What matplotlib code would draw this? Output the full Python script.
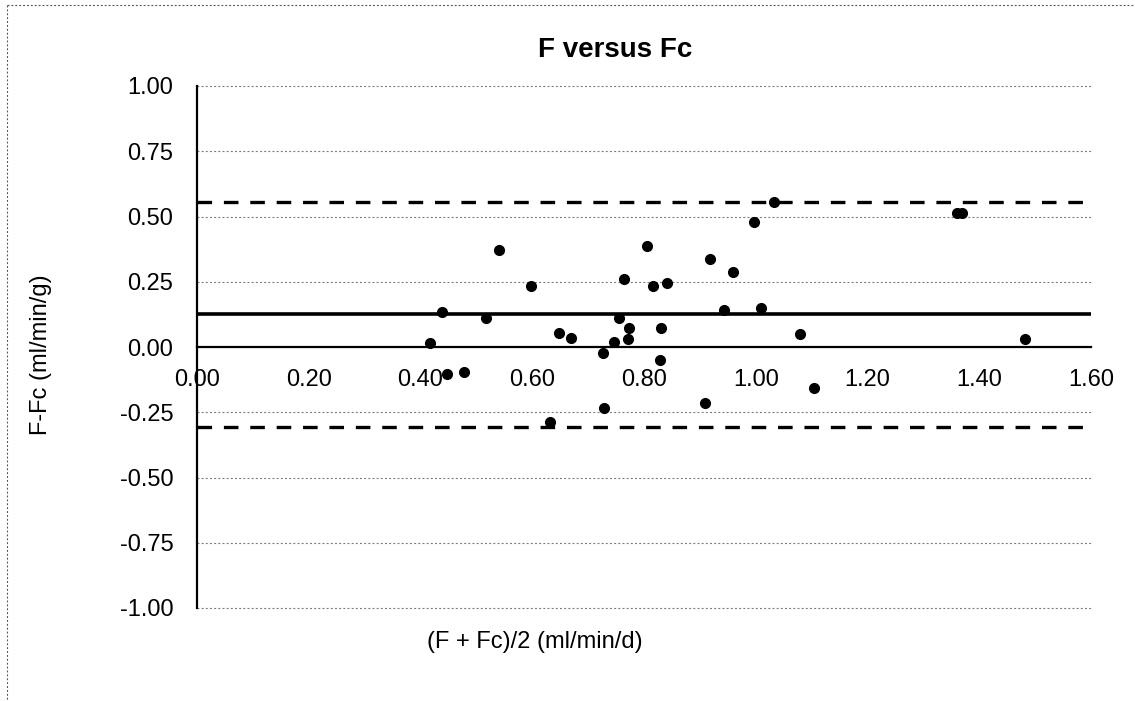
import matplotlib
matplotlib.use("Agg")
import matplotlib.pyplot as plt
from matplotlib.lines import Line2D
from matplotlib.ticker import FormatStrFormatter

plt.rcParams['font.family'] = ['Liberation Sans', 'DejaVu Sans']
plt.rcParams['axes.unicode_minus'] = False
plt.rcParams['lines.scale_dashes'] = False

# Data
mean_f_fc = [0.417, 0.439, 0.447, 0.478, 0.517, 0.540, 0.598, 0.631, 0.648, 0.669,
             0.726, 0.728, 0.747, 0.755, 0.765, 0.772, 0.774, 0.806, 0.816, 0.829,
             0.831, 0.841, 0.910, 0.918, 0.943, 0.960, 0.996, 1.010, 1.033, 1.079,
             1.104, 1.361, 1.370, 1.482]
diff_f_fc = [0.016, 0.134, -0.103, -0.095, 0.111, 0.372, 0.235, -0.289, 0.052, 0.036,
             -0.024, -0.235, 0.020, 0.111, 0.261, 0.031, 0.074, 0.388, 0.235, -0.050,
             0.073, 0.244, -0.216, 0.337, 0.142, 0.289, 0.480, 0.148, 0.554, 0.050,
             -0.158, 0.515, 0.515, 0.029]
mean_diff = 0.125
upper_loa = 0.556
lower_loa = -0.307
x_ticks = [0.0, 0.2, 0.4, 0.6, 0.8, 1.0, 1.2, 1.4, 1.6]
y_ticks = [-1.0, -0.75, -0.5, -0.25, 0.0, 0.25, 0.5, 0.75, 1.0]
title = "F versus Fc"
x_label = "(F + Fc)/2 (ml/min/d)"
y_label = "F-Fc (ml/min/g)"

W, H = 1135, 701
fig = plt.figure(figsize=(W / 100, H / 100), dpi=100)
ax = fig.add_axes([197 / W, 1 - 608 / H, (1091 - 197) / W, (608 - 86) / H])
ax.set_xlim(0, 1.6)
ax.set_ylim(-1.0, 1.0)

# gridlines
for yv in y_ticks:
    if yv == 0:
        continue
    ax.axhline(yv, color='#7a7a7a', lw=0.8, linestyle=(0, (1.4, 1.6)), zorder=1,
               clip_on=False)

# spines
for s in ['top', 'right']:
    ax.spines[s].set_visible(False)
ax.spines['bottom'].set_position(('data', 0))
ax.spines['bottom'].set_linewidth(1.6)
ax.spines['left'].set_linewidth(1.6)
ax.spines['bottom'].set_zorder(2)
ax.spines['left'].set_zorder(3)

# reference lines
ax.axhline(mean_diff, color='black', lw=2.6, zorder=2)
ax.axhline(upper_loa, color='black', lw=2.4, linestyle=(0, (10.5, 8.5)), zorder=2)
ax.axhline(lower_loa, color='black', lw=2.4, linestyle=(0, (10.5, 8.5)), zorder=2)

ax.plot(mean_f_fc, diff_f_fc, 'o', color='black', markersize=7, zorder=4, clip_on=False)

ax.set_xticks(x_ticks)
ax.set_yticks(y_ticks)
ax.xaxis.set_major_formatter(FormatStrFormatter('%.2f'))
ax.yaxis.set_major_formatter(FormatStrFormatter('%.2f'))
ax.tick_params(axis='x', length=0, pad=16, labelsize=17)
ax.tick_params(axis='y', length=0, pad=17, labelsize=17)

fig.text(615 / W, 1 - 50 / H, title, ha='center', va='center', fontsize=20, fontweight='bold')
fig.text(535 / W, 1 - 642 / H, x_label, ha='center', va='center', fontsize=17)
fig.text(41 / W, 1 - 355 / H, y_label, ha='center', va='center', fontsize=17, rotation=90)

# outer dotted border (chart area)
fig.add_artist(Line2D([7 / W, 1.0], [1 - 5 / H, 1 - 5 / H], color='#555555', lw=0.8,
                      linestyle=(0, (1.4, 1.4)), transform=fig.transFigure))
fig.add_artist(Line2D([7 / W, 7 / W], [1 - 5 / H, 0.0], color='#555555', lw=0.8,
                      linestyle=(0, (1.4, 1.4)), transform=fig.transFigure))

fig.savefig("out.png", dpi=100)
